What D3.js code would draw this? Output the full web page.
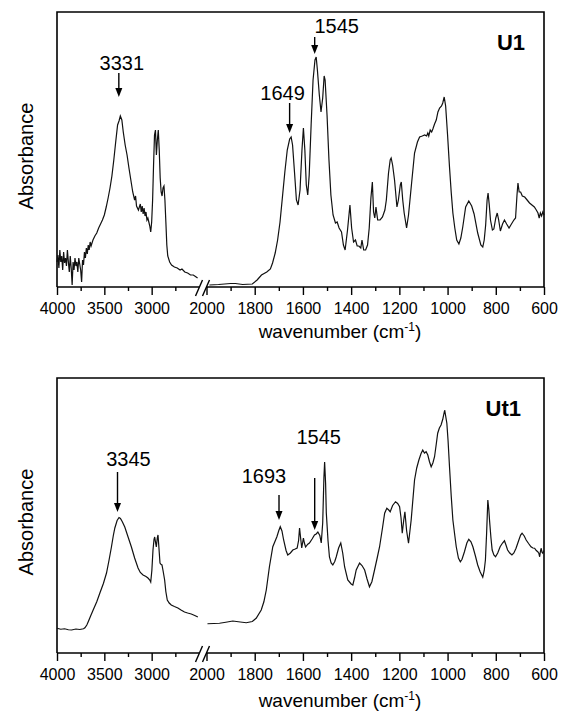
<!DOCTYPE html>
<html>
<head>
<meta charset="utf-8">
<script src="https://cdn.jsdelivr.net/npm/d3@7"></script>
<style>
  body { margin: 0; background: #fff; }
  text { font-family: Arial, "Liberation Sans", sans-serif; fill: #000; }
</style>
</head>
<body>
<svg id="chart" width="561" height="721"></svg>
<script>
// ---- data (absorbance, arbitrary units) ----
var u1High = [[4000,0.100],[3990,0.128],[3980,0.076],[3970,0.148],[3960,0.100],[3950,0.124],[3940,0.068],[3930,0.140],[3920,0.096],[3910,0.116],[3900,0.084],[3890,0.148],[3880,0.100],[3870,0.060],[3860,0.124],[3850,0.076],[3840,0.008],[3830,0.100],[3820,0.068],[3810,0.116],[3800,0.084],[3790,0.100],[3780,0.060],[3770,0.116],[3760,0.092],[3750,0.068],[3740,0.020],[3730,0.108],[3720,0.088],[3710,0.140],[3700,0.116],[3690,0.156],[3680,0.132],[3670,0.168],[3660,0.148],[3650,0.180],[3640,0.164],[3620,0.188],[3600,0.204],[3580,0.216],[3560,0.236],[3540,0.252],[3520,0.268],[3500,0.288],[3480,0.320],[3460,0.356],[3440,0.396],[3420,0.444],[3400,0.508],[3380,0.580],[3360,0.648],[3345,0.664],[3331,0.684],[3315,0.668],[3300,0.620],[3280,0.568],[3260,0.528],[3240,0.476],[3220,0.428],[3200,0.380],[3180,0.348],[3170,0.364],[3160,0.324],[3140,0.308],[3120,0.332],[3110,0.300],[3100,0.324],[3090,0.292],[3080,0.316],[3070,0.284],[3060,0.300],[3050,0.268],[3040,0.276],[3030,0.260],[3020,0.244],[3010,0.220],[3000,0.260],[2990,0.348],[2980,0.488],[2970,0.608],[2960,0.628],[2950,0.528],[2940,0.588],[2930,0.628],[2920,0.548],[2910,0.436],[2900,0.380],[2890,0.364],[2880,0.396],[2870,0.404],[2860,0.348],[2850,0.260],[2840,0.168],[2830,0.124],[2810,0.100],[2790,0.088],[2760,0.080],[2730,0.076],[2700,0.068],[2680,0.072],[2650,0.060],[2620,0.056],[2590,0.048],[2560,0.048],[2530,0.040],[2515,0.036]];

var u1Low = [[1988,0.008],[1950,0.010],[1900,0.014],[1880,0.014],[1850,0.010],[1810,0.012],[1790,0.028],[1772,0.048],[1750,0.060],[1735,0.072],[1726,0.096],[1715,0.136],[1705,0.188],[1695,0.260],[1685,0.360],[1675,0.460],[1665,0.548],[1655,0.592],[1649,0.600],[1643,0.568],[1635,0.460],[1627,0.348],[1620,0.328],[1612,0.388],[1604,0.548],[1598,0.636],[1592,0.548],[1586,0.408],[1580,0.368],[1574,0.448],[1566,0.648],[1558,0.828],[1550,0.908],[1545,0.920],[1540,0.868],[1532,0.768],[1525,0.700],[1518,0.756],[1512,0.844],[1508,0.828],[1500,0.688],[1492,0.508],[1484,0.368],[1475,0.288],[1465,0.256],[1458,0.260],[1450,0.236],[1440,0.220],[1432,0.168],[1425,0.148],[1415,0.228],[1405,0.328],[1398,0.236],[1390,0.180],[1382,0.188],[1375,0.164],[1368,0.164],[1360,0.156],[1355,0.188],[1348,0.148],[1340,0.148],[1332,0.168],[1325,0.236],[1318,0.356],[1312,0.420],[1307,0.300],[1302,0.276],[1297,0.320],[1290,0.268],[1280,0.268],[1270,0.280],[1260,0.308],[1254,0.348],[1245,0.456],[1238,0.508],[1234,0.516],[1228,0.488],[1220,0.428],[1210,0.320],[1204,0.348],[1196,0.408],[1192,0.420],[1186,0.348],[1180,0.296],[1170,0.236],[1162,0.288],[1150,0.408],[1137,0.536],[1125,0.580],[1116,0.600],[1105,0.604],[1095,0.608],[1087,0.604],[1082,0.616],[1078,0.604],[1072,0.628],[1066,0.620],[1061,0.632],[1054,0.652],[1047,0.668],[1040,0.700],[1033,0.716],[1025,0.724],[1020,0.736],[1014,0.760],[1008,0.724],[1000,0.608],[992,0.480],[985,0.380],[978,0.296],[970,0.236],[962,0.188],[953,0.172],[945,0.196],[937,0.240],[925,0.320],[912,0.344],[900,0.324],[890,0.292],[875,0.216],[862,0.168],[854,0.160],[848,0.188],[842,0.248],[836,0.348],[832,0.376],[827,0.328],[822,0.268],[814,0.228],[808,0.232],[800,0.276],[794,0.296],[788,0.268],[781,0.224],[772,0.252],[764,0.268],[755,0.252],[745,0.236],[735,0.252],[725,0.268],[718,0.276],[712,0.368],[708,0.416],[703,0.380],[697,0.380],[690,0.364],[680,0.360],[670,0.348],[660,0.336],[650,0.328],[640,0.320],[632,0.308],[625,0.296],[620,0.276],[615,0.296],[610,0.284],[605,0.300],[600,0.288]];

var ut1High = [[4000,0.099],[3960,0.095],[3920,0.097],[3880,0.093],[3846,0.092],[3800,0.096],[3760,0.094],[3720,0.097],[3705,0.101],[3685,0.112],[3670,0.125],[3645,0.148],[3618,0.172],[3580,0.205],[3547,0.240],[3510,0.278],[3477,0.320],[3450,0.372],[3425,0.424],[3405,0.470],[3389,0.500],[3365,0.530],[3345,0.542],[3330,0.538],[3310,0.525],[3284,0.504],[3250,0.465],[3214,0.424],[3180,0.380],[3144,0.340],[3120,0.322],[3091,0.312],[3060,0.306],[3039,0.300],[3020,0.292],[3010,0.284],[2998,0.330],[2986,0.412],[2975,0.455],[2968,0.464],[2958,0.440],[2951,0.424],[2940,0.462],[2933,0.472],[2925,0.430],[2912,0.360],[2900,0.354],[2891,0.352],[2880,0.330],[2863,0.292],[2850,0.245],[2835,0.212],[2815,0.200],[2793,0.192],[2760,0.186],[2723,0.180],[2690,0.172],[2653,0.164],[2620,0.160],[2582,0.156],[2545,0.150],[2512,0.144]];

var ut1Low = [[1996,0.117],[1970,0.118],[1946,0.119],[1920,0.123],[1891,0.128],[1860,0.124],[1835,0.121],[1810,0.126],[1794,0.139],[1773,0.172],[1762,0.205],[1752,0.252],[1739,0.345],[1725,0.425],[1708,0.465],[1700,0.490],[1694,0.505],[1687,0.488],[1680,0.452],[1670,0.410],[1663,0.392],[1652,0.400],[1642,0.412],[1632,0.416],[1624,0.420],[1618,0.450],[1614,0.500],[1609,0.455],[1605,0.420],[1598,0.460],[1594,0.440],[1589,0.424],[1580,0.435],[1573,0.440],[1562,0.456],[1552,0.472],[1545,0.476],[1538,0.484],[1530,0.470],[1524,0.440],[1518,0.520],[1513,0.700],[1510,0.764],[1506,0.680],[1503,0.560],[1496,0.450],[1490,0.384],[1483,0.360],[1476,0.352],[1468,0.366],[1462,0.384],[1452,0.420],[1443,0.440],[1435,0.400],[1427,0.344],[1414,0.292],[1400,0.276],[1393,0.272],[1386,0.300],[1379,0.332],[1365,0.360],[1355,0.350],[1344,0.332],[1334,0.296],[1324,0.265],[1314,0.285],[1303,0.332],[1292,0.380],[1282,0.425],[1270,0.500],[1261,0.559],[1252,0.579],[1244,0.572],[1238,0.565],[1228,0.590],[1216,0.605],[1207,0.598],[1199,0.585],[1193,0.540],[1188,0.479],[1182,0.530],[1177,0.565],[1170,0.490],[1162,0.439],[1151,0.532],[1137,0.692],[1128,0.740],[1119,0.772],[1110,0.798],[1103,0.812],[1096,0.800],[1089,0.805],[1082,0.792],[1075,0.765],[1068,0.745],[1061,0.760],[1054,0.785],[1047,0.835],[1041,0.879],[1034,0.900],[1027,0.912],[1020,0.935],[1012,0.972],[1003,0.919],[998,0.850],[992,0.745],[985,0.630],[978,0.532],[970,0.470],[964,0.425],[955,0.380],[947,0.365],[940,0.375],[930,0.405],[920,0.440],[912,0.455],[903,0.445],[895,0.425],[885,0.390],[875,0.352],[865,0.325],[854,0.303],[848,0.330],[843,0.372],[838,0.480],[833,0.612],[829,0.575],[826,0.532],[820,0.460],[815,0.412],[808,0.392],[801,0.385],[792,0.400],[782,0.425],[772,0.440],[764,0.449],[757,0.430],[751,0.412],[742,0.400],[733,0.392],[725,0.400],[716,0.419],[705,0.450],[697,0.472],[691,0.479],[682,0.468],[674,0.452],[664,0.438],[654,0.425],[646,0.420],[639,0.419],[632,0.410],[626,0.405],[621,0.398],[618,0.385],[615,0.405],[612,0.419],[608,0.402],[605,0.399],[600,0.410]];

// tick values
var highMajor = [4000, 3500, 3000];
var highMinor = [3750, 3250, 2750];
var lowMajor = [2000, 1800, 1600, 1400, 1200, 1000, 800, 600];
var lowMinor = [1900, 1700, 1500, 1300, 1100, 900, 700];

// peak labels: wavenumber, label
var u1Peaks = [[3331, "3331"], [1649, "1649"], [1545, "1545"]];
var ut1Peaks = [[3345, "3345"], [1693, "1693"], [1545, "1545"]];

// ---- layout ----
var svg = d3.select("#chart");
var left = 57, right = 544, breakL = 199, breakR = 206.5, plotH = 275;

var xHigh = d3.scaleLinear().domain([4000, 2500]).range([left, breakL]);
var xLow = d3.scaleLinear().domain([2000, 600]).range([breakR, right]);
function xOf(wn) { return wn > 2250 ? xHigh(wn) : xLow(wn); }

// arrow/label placement (pixels relative to panel top), one per peak
var u1Marks = [
  {top: 61, tip: 85, tx: 3, ty: 58},
  {top: 91, tip: 121, tx: -7, ty: 88},
  {top: 25, tip: 42, tx: 22, ty: 21}
];
var ut1Marks = [
  {top: 94, tip: 134, tx: 11, ty: 88},
  {top: 117, tip: 142, tx: -15, ty: 105},
  {top: 100, tip: 152, tx: 4, ty: 66}
];

var panels = [
  {name: "U1", top: 12, high: u1High, low: u1Low, peaks: u1Peaks, marks: u1Marks, nameX: 525, titleDy: 51},
  {name: "Ut1", top: 378, high: ut1High, low: ut1Low, peaks: ut1Peaks, marks: ut1Marks, nameX: 521, titleDy: 54}
];

panels.forEach(function(p) {
  var g = svg.append("g");
  var bottom = p.top + plotH;
  var y = d3.scaleLinear().domain([0, 1.1]).range([bottom, p.top]);

  // frame (bottom edge drawn as broken axis)
  g.append("path")
    .attr("d", "M" + left + "," + bottom + "V" + p.top + "H" + right + "V" + bottom)
    .attr("fill", "none").attr("stroke", "#000").attr("stroke-width", 1.6);

  // x axes, high and low wavenumber parts
  function addAxis(scale, major, minor) {
    var ax = g.append("g").attr("transform", "translate(0," + bottom + ")")
      .call(d3.axisBottom(scale).tickValues(major).tickSize(8).tickPadding(8).tickFormat(d3.format("d")));
    ax.select(".domain").attr("stroke-width", 1.6);
    ax.selectAll(".tick line").attr("stroke-width", 1.4);
    ax.selectAll("text").style("font-size", "16px").attr("fill", "#000");
    var mi = g.append("g").attr("transform", "translate(0," + bottom + ")")
      .call(d3.axisBottom(scale).tickValues(minor).tickSize(4).tickFormat(""));
    mi.select(".domain").remove();
    mi.selectAll(".tick line").attr("stroke-width", 1.4);
    ax.select(".domain").attr("d", "M" + scale.range()[0] + ",0H" + scale.range()[1]);
  }
  addAxis(xHigh, highMajor, highMinor);
  addAxis(xLow, lowMajor, lowMinor);

  // axis break marks
  [0, 7].forEach(function(off) {
    g.append("line")
      .attr("x1", 195.5 + off).attr("y1", bottom + 9)
      .attr("x2", 202.5 + off).attr("y2", bottom - 7)
      .attr("stroke", "#000").attr("stroke-width", 1.4);
  });

  // spectra
  var line = function(xs) {
    return d3.line().x(function(d) { return xs(d[0]); }).y(function(d) { return y(d[1]); });
  };
  g.append("path").datum(p.high).attr("d", line(xHigh))
    .attr("fill", "none").attr("stroke", "#111").attr("stroke-width", 1.2);
  g.append("path").datum(p.low).attr("d", line(xLow))
    .attr("fill", "none").attr("stroke", "#111").attr("stroke-width", 1.2);

  // peak arrows
  p.peaks.forEach(function(pk, i) {
    var m = p.marks[i];
    var ax = xOf(pk[0]) - 1.5;
    var tip = p.top + m.tip;
    g.append("line").attr("x1", ax).attr("x2", ax)
      .attr("y1", p.top + m.top).attr("y2", tip - 6)
      .attr("stroke", "#000").attr("stroke-width", 1.4);
    g.append("path")
      .attr("d", "M" + (ax - 3.5) + "," + (tip - 9) + "L" + (ax + 3.5) + "," + (tip - 9) + "L" + ax + "," + tip + "Z")
      .attr("fill", "#000");
    g.append("text").attr("x", ax + m.tx).attr("y", p.top + m.ty)
      .attr("text-anchor", "middle").style("font-size", "20px").text(pk[1]);
  });

  // sample label
  g.append("text").attr("x", p.nameX).attr("y", p.top + 38)
    .attr("text-anchor", "end").style("font-size", "22px").style("font-weight", "bold")
    .text(p.name);

  // axis titles
  g.append("text").attr("transform", "translate(33," + (p.top + 144) + ") rotate(-90)")
    .attr("text-anchor", "middle").style("font-size", "20px").text("Absorbance");
  var xt = g.append("text").attr("x", 340).attr("y", bottom + p.titleDy)
    .attr("text-anchor", "middle").style("font-size", "19px");
  xt.append("tspan").text("wavenumber (cm");
  xt.append("tspan").attr("dy", -7).style("font-size", "12px").text("-1");
  xt.append("tspan").attr("dy", 7).text(")");
});
</script>
</body>
</html>
